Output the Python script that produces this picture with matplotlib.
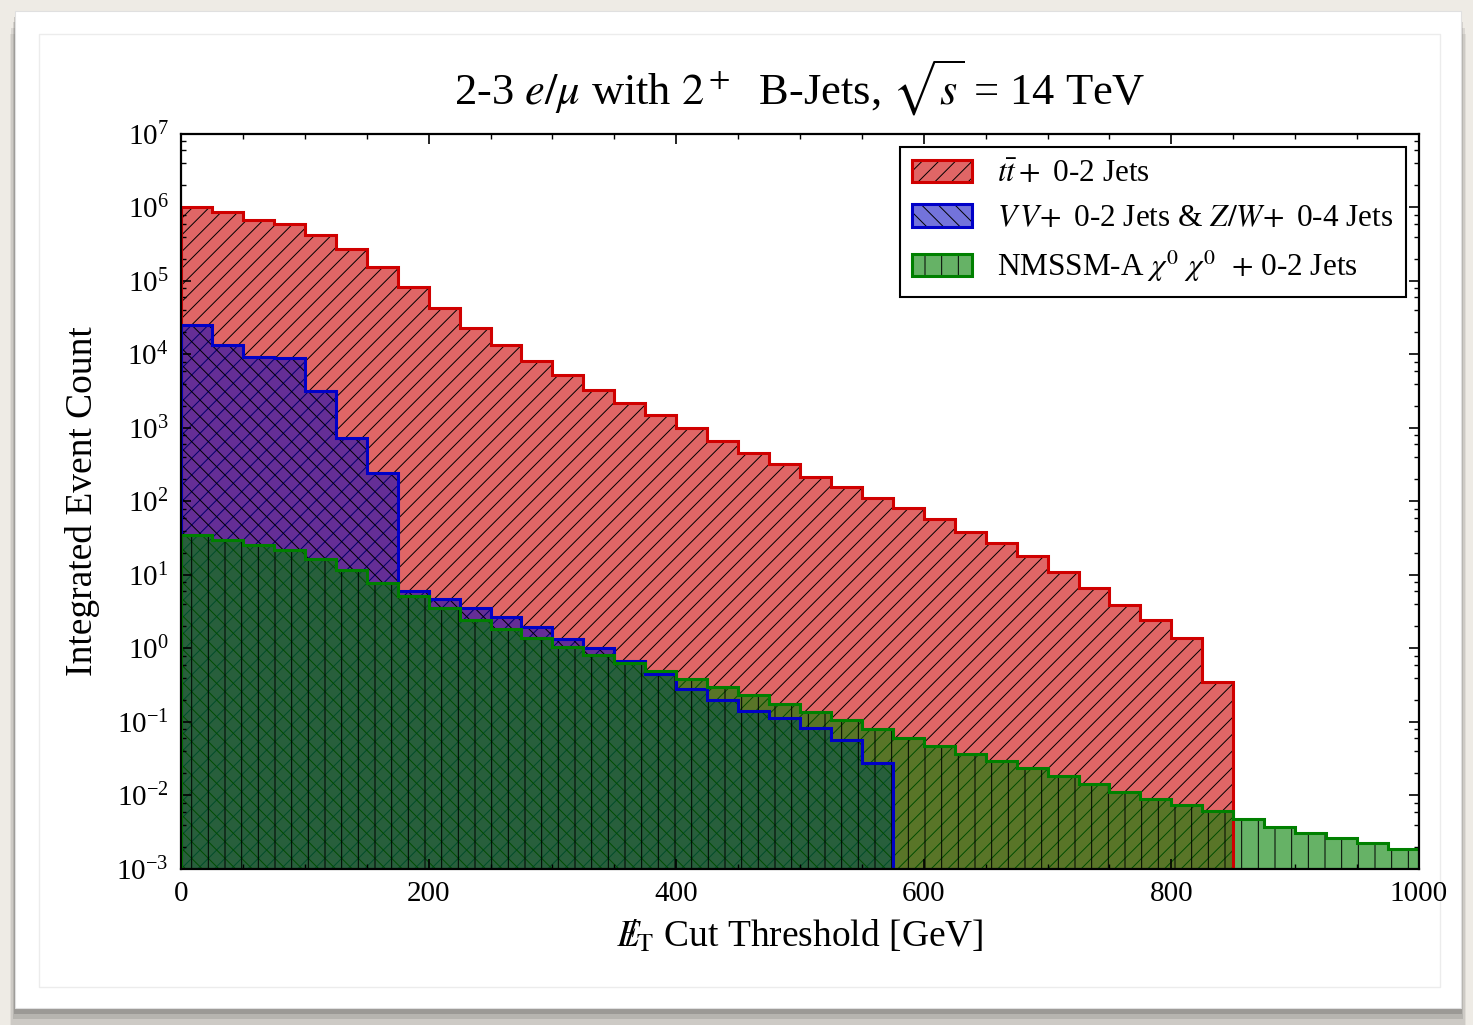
import numpy as np
import matplotlib
matplotlib.use('Agg')
import matplotlib.pyplot as plt
from matplotlib.patches import Rectangle, Patch
from matplotlib.ticker import LogLocator, MultipleLocator, NullFormatter
from matplotlib.legend_handler import HandlerTuple

# bin edges: 25 GeV bins from 0 to 1000
edges = np.arange(0, 1001, 25)

# integrated event counts per threshold bin
ttbar = [1.03e6, 8.6e5, 6.8e5, 5.9e5, 4.27e5, 2.72e5, 1.55e5, 8.3e4, 4.3e4, 2.3e4,
         1.35e4, 8.1e3, 5.2e3, 3.3e3, 2.2e3, 1.5e3, 1.0e3, 665, 461, 321,
         217, 157, 113, 81, 57, 39, 27, 18, 11.1, 6.6,
         3.9, 2.44, 1.40, 0.35]
vv = [2.5e4, 1.35e4, 9.3e3, 8.9e3, 3.2e3, 738, 247, 5.97, 4.64, 3.59,
      2.68, 1.96, 1.35, 1.01, 0.676, 0.45, 0.281, 0.197, 0.141, 0.112,
      0.0836, 0.0564, 0.0279]
nmssm = [35, 30.2, 25.6, 21.7, 16.7, 11.6, 7.78, 5.18, 3.52, 2.47,
         1.82, 1.38, 1.05, 0.817, 0.635, 0.494, 0.385, 0.299, 0.233, 0.177,
         0.137, 0.105, 0.0804, 0.0611, 0.0476, 0.0371, 0.0294, 0.0233, 0.0182, 0.0143,
         0.0113, 0.00904, 0.00736, 0.00615, 0.00483, 0.00377, 0.00306, 0.00267, 0.00226, 0.00189]

labels = [r'$t\bar{t}+$ 0-2 Jets',
          r'$V\,V\!+$ 0-2 Jets & $Z/W\!+$ 0-4 Jets',
          r'NMSSM-A $\chi^0$ $\chi^0$  $+$ 0-2 Jets']

plt.rcParams['font.family'] = ['Liberation Serif', 'DejaVu Serif']
plt.rcParams['mathtext.fontset'] = 'stix'
plt.rcParams['hatch.linewidth'] = 0.7
plt.rcParams['axes.unicode_minus'] = False

fig = plt.figure(figsize=(14.73, 10.25), dpi=100)
fig.patch.set_facecolor('#eeebe5')

# card with a soft shadow underneath
for i, a in enumerate([0.08, 0.10, 0.14, 0.2]):
    d = (4 - i) * 0.004
    fig.patches.append(Rectangle((0.0102 - d * 0.2, 0.0166 - d * 1.4), 0.9817 + d * 0.4, 0.9727,
                                 transform=fig.transFigure, facecolor='#303030',
                                 edgecolor='none', alpha=a, zorder=-3))
fig.patches.append(Rectangle((0.0102, 0.0166), 0.9817, 0.9727, transform=fig.transFigure,
                             facecolor='white', edgecolor='#e0e0e0', lw=0.8, zorder=-2))
fig.patches.append(Rectangle((0.0265, 0.0371), 0.9511, 0.9298, transform=fig.transFigure,
                             facecolor='none', edgecolor='#ececec', lw=1.0, zorder=-1))

ax = fig.add_axes([0.1229, 0.1522, 0.8404, 0.7171])
ax.set_yscale('log')

base = 1e-6
series = [
    (ttbar, (0.8, 0.0, 0.0, 0.6), '#d00000', '//'),
    (vv, (0.0, 0.0, 0.75, 0.55), '#0000c8', '\\\\'),
    (nmssm, (0.0, 0.5, 0.0, 0.6), '#008000', '|'),
]
handles = []
for vals, face, edge, hatch in series:
    e = edges[:len(vals) + 1]
    ax.stairs(vals, e, fill=True, baseline=base, facecolor=face, edgecolor='k',
              linewidth=0, hatch=hatch, zorder=1)
    fill_h = Patch(facecolor=face, edgecolor='k', linewidth=0, hatch=hatch)
    line_h = Patch(facecolor='none', edgecolor=edge, linewidth=2.2)
    handles.append((fill_h, line_h))
for vals, face, edge, hatch in series:
    e = edges[:len(vals) + 1]
    ax.stairs(vals, e, fill=False, baseline=base, edgecolor=edge, linewidth=2.2, zorder=2)

ax.set_xlim(0, 1000)
ax.set_ylim(1e-3, 1e7)
ax.xaxis.set_major_locator(MultipleLocator(200))
ax.xaxis.set_minor_locator(MultipleLocator(50))
ax.yaxis.set_major_locator(LogLocator(base=10, numticks=20))
ax.yaxis.set_minor_locator(LogLocator(base=10, subs=(2, 4, 6, 8), numticks=20))
ax.yaxis.set_minor_formatter(NullFormatter())
ax.tick_params(which='both', direction='in', top=True, right=True, labelsize=21)
ax.tick_params(which='major', length=7, width=1.2, pad=9)
ax.tick_params(which='minor', length=3.6, width=1.0)
for s in ax.spines.values():
    s.set_linewidth(1.6)

ax.set_title(r'2-3 $e/\mu$ with $2^+$  B-Jets, $\sqrt{s}$ = 14 TeV', fontsize=32, pad=21)
ax.set_xlabel(r'$E\!\!\!/_{\mathrm{T}}$ Cut Threshold [GeV]', fontsize=27, labelpad=8)
ax.set_ylabel('Integrated Event Count', fontsize=27, labelpad=12)

leg = ax.legend(handles, labels, loc='upper right', fontsize=22.5, frameon=True,
                fancybox=False, framealpha=1, edgecolor='k', borderaxespad=0.42,
                handlelength=1.9, handleheight=0.72, handletextpad=0.8,
                labelspacing=0.5, borderpad=0.4,
                handler_map={tuple: HandlerTuple(ndivide=1, pad=0)})
leg.get_frame().set_linewidth(1.5)

fig.savefig('out.png', dpi=100, facecolor=fig.get_facecolor())
